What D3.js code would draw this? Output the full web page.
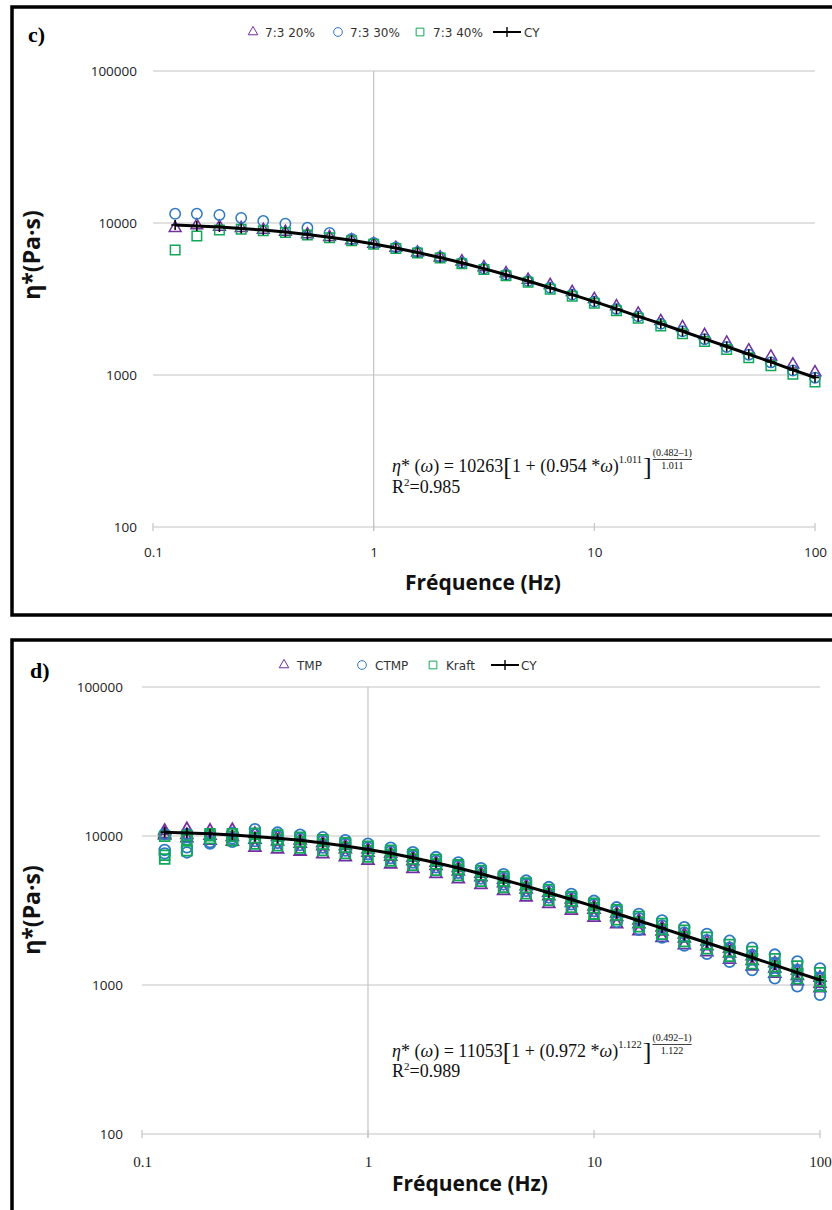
<!DOCTYPE html>
<html><head><meta charset="utf-8">
<script src="https://cdn.jsdelivr.net/npm/d3@7"></script>
<style>body{margin:0;background:#fff}</style>
</head><body>
<svg id="chart" width="832" height="1210"></svg>
<script>
// ---------- data ----------
const freq = [0.126,0.158,0.2,0.251,0.316,0.398,0.501,0.631,0.794,1,1.26,1.58,2,2.51,3.16,3.98,5.01,6.31,7.94,10,12.6,15.8,20,25.1,31.6,39.8,50.1,63.1,79.4,100];
const xTicks = [0.1,1,10,100];
const xTickLabels = ["0.1","1","10","100"];
const yTicks = [100,1000,10000,100000];
const yTickLabels = ["100","1000","10000","100000"];

// panel c
const cLegend = ["7:3 20%","7:3 30%","7:3 40%","CY"];
const c20 = [9270,9650,9450,9250,9000,8730,8410,8070,7690,7280,6850,6390,5930,5580,5110,4660,4230,3900,3510,3160,2830,2530,2260,2060,1830,1630,1450,1320,1170,1040];
const c30 = [11500,11500,11300,10800,10300,9900,9300,8600,7850,7400,6900,6420,5950,5480,5020,4570,4150,3750,3380,3040,2720,2430,2170,1940,1720,1530,1360,1210,1070,960];
const c40 = [6640,8200,9000,9100,8900,8650,8350,8000,7650,7250,6800,6350,5880,5400,4940,4500,4070,3670,3300,2960,2650,2360,2100,1870,1660,1470,1300,1150,1010,900];
const cCY = [9700,9560,9400,9210,8980,8720,8410,8070,7690,7280,6850,6390,5930,5470,5010,4570,4150,3750,3380,3040,2720,2430,2180,1940,1730,1540,1370,1220,1080,963];

// panel d
const dLegend = ["TMP","CTMP","Kraft","CY"];
const dTMP1 = [10820,11120,10860,10970,10330,9860,9350,8990,8580,8130,7650,7140,6620,6100,5580,5080,4610,4160,3750,3370,3020,2710,2430,2180,1960,1750,1560,1400,1250,1120];
const dTMP2 = [10290,10170,10030,9850,9440,9180,8890,8540,8150,7730,7270,6780,6290,5790,5300,4830,4380,3950,3560,3200,2860,2560,2290,2050,1820,1630,1450,1290,1150,1020];
const dTMP3 = [10080,9650,9310,9140,8340,8120,7860,7550,7210,6830,6430,6000,5560,5120,4690,4270,3870,3500,3150,2830,2560,2300,2070,1850,1660,1480,1330,1190,1060,950];
const dCTMP1 = [10290,10280,10240,10460,11120,10540,10190,9800,9360,8870,8340,7780,7220,6640,6080,5540,5020,4540,4080,3670,3320,3000,2710,2440,2200,1980,1780,1600,1440,1290];
const dCTMP2 = [8060,8390,9100,9650,10230,9960,9630,9260,8840,8380,7880,7360,6820,6280,5750,5230,4750,4290,3860,3470,3140,2810,2510,2240,2000,1780,1590,1410,1260,1120];
const dCTMP3 = [7640,7760,8890,9140,9240,8990,8700,8360,7980,7560,7110,6640,6160,5670,5190,4730,4280,3870,3480,3130,2650,2350,2080,1840,1620,1430,1260,1110,980,860];
const dKraft1 = [9970,10070,10340,10360,10430,10150,9820,9440,9010,8540,8030,7500,6950,6400,5860,5340,4840,4370,3930,3530,3200,2880,2590,2330,2090,1870,1680,1500,1340,1210];
const dKraft2 = [7430,9440,10030,9950,9730,9470,9170,8810,8410,7970,7500,7000,6490,5970,5470,4980,4510,4080,3670,3300,2950,2640,2360,2110,1880,1680,1490,1330,1190,1060];
const dKraft3 = [7000,7970,9620,9340,8840,8600,8320,8000,7640,7240,6810,6360,5890,5430,4970,4520,4100,3700,3330,2990,2740,2460,2190,1960,1750,1560,1390,1240,1100,980];
const dCY = [10610,10490,10340,10160,9930,9670,9350,8990,8580,8130,7650,7140,6620,6100,5580,5080,4610,4160,3750,3370,3020,2700,2410,2150,1920,1710,1530,1360,1210,1080];

// ---------- drawing ----------
const PURPLE = "#7030a0", BLUE = "#2e78c4", GREEN = "#12a85a";
const svg = d3.select("#chart");
const sans = "'Open Sans', 'Liberation Sans', Arial, sans-serif";
const serif = "'Liberation Serif', 'Times New Roman', serif";

function marker(g, shape, color, cx, cy, sz, sw) {
  const type = shape === "tri" ? d3.symbolTriangle : shape === "circ" ? d3.symbolCircle : d3.symbolSquare;
  g.append("path").attr("d", d3.symbol().type(type).size(sz)())
    .attr("transform", `translate(${cx},${cy})`)
    .attr("fill", "none").attr("stroke", color).attr("stroke-width", sw);
}
function plus(g, cx, cy, s) {
  g.append("path").attr("d", `M${-s},0H${s}M0,${-s - 1}V${s + 1}`)
    .attr("transform", `translate(${cx},${cy})`).attr("stroke", "#000").attr("stroke-width", 1.6).attr("fill", "none");
}

function formula(g, x0, base, A, a, n, num, r2, r2dy) {
  const fs = 18;
  let x = x0;
  const pieces = [
    {t: "η", it: true}, {t: "* ("}, {t: "ω", it: true}, {t: ") = " + A},
    {t: "[", big: true}, {t: "1 + (" + a + " * "}, {t: "ω", it: true}, {t: ")"},
    {t: n, sup: true}, {t: "]", big: true}
  ];
  pieces.forEach(p => {
    const t = g.append("text").attr("x", x).attr("y", p.sup ? base - 9 : p.big ? base + 3 : base)
      .attr("font-family", serif).attr("font-size", p.sup ? 10.5 : p.big ? 26 : fs)
      .attr("font-style", p.it ? "italic" : "normal").attr("fill", "#111").text(p.t);
    x += t.node().getComputedTextLength() + (p.sup ? 1 : 0);
  });
  const numT = g.append("text").attr("x", x + 1).attr("y", base - 16).attr("font-family", serif).attr("font-size", 10).attr("fill", "#111").text(num);
  const w = numT.node().getComputedTextLength();
  g.append("line").attr("x1", x + 1).attr("x2", x + 1 + w).attr("y1", base - 12.5).attr("y2", base - 12.5).attr("stroke", "#111").attr("stroke-width", 0.8);
  g.append("text").attr("x", x + 1 + w / 2).attr("y", base - 3).attr("text-anchor", "middle").attr("font-family", serif).attr("font-size", 10).attr("fill", "#111").text(n);
  const r = g.append("text").attr("x", x0).attr("y", base + r2dy).attr("font-family", serif).attr("font-size", fs).attr("fill", "#111");
  r.append("tspan").text("R");
  r.append("tspan").attr("font-size", 11).attr("dy", -7).text("2");
  r.append("tspan").attr("dy", 7).text("=" + r2);
}

function panel(cfg) {
  const g = svg.append("g");
  g.append("rect").attr("x", cfg.box[0]).attr("y", cfg.box[1]).attr("width", cfg.box[2]).attr("height", cfg.box[3])
    .attr("fill", "none").attr("stroke", "#000").attr("stroke-width", 3.5);
  const x = d3.scaleLog().domain([0.1, 100]).range(cfg.xr);
  const y = d3.scaleLog().domain([100, 100000]).range(cfg.yr);

  // gridlines
  g.selectAll(".hg").data(yTicks).join("line")
    .attr("x1", x(0.1)).attr("x2", x(100)).attr("y1", d => y(d)).attr("y2", d => y(d))
    .attr("stroke", "#c4c4c4").attr("stroke-width", 1.2);
  g.append("line").attr("x1", x(1)).attr("x2", x(1)).attr("y1", y(100000)).attr("y2", y(100) + 4)
    .attr("stroke", "#c4c4c4").attr("stroke-width", 1.2);
  g.selectAll(".xt").data(xTicks).join("line")
    .attr("x1", d => x(d)).attr("x2", d => x(d)).attr("y1", y(100) - 4).attr("y2", y(100) + 4)
    .attr("stroke", "#c4c4c4").attr("stroke-width", 1.2);

  // axes labels via d3 axes
  const ya = g.append("g").attr("transform", `translate(${x(0.1)},0)`)
    .call(d3.axisLeft(y).tickValues(yTicks).tickFormat((d, i) => yTickLabels[i]).tickSize(0).tickPadding(cfg.yPad));
  ya.select(".domain").remove();
  ya.selectAll("text").attr("font-family", sans).attr("font-size", 13.5).attr("fill", "#222");
  const xa = g.append("g").attr("transform", `translate(0,${y(100)})`)
    .call(d3.axisBottom(x).tickValues(xTicks).tickFormat((d, i) => xTickLabels[i]).tickSize(0).tickPadding(cfg.xPad));
  xa.select(".domain").remove();
  xa.selectAll("text").attr("font-family", cfg.xFont).attr("font-size", cfg.xFs).attr("fill", "#222");

  // series
  cfg.series.forEach(s => {
    s.values.forEach((v, i) => marker(g, s.shape, s.color, x(freq[i]), y(v), s.size, cfg.sw));
  });
  g.append("path").datum(cfg.cy)
    .attr("d", d3.line().x((d, i) => x(freq[i])).y(d => y(d)))
    .attr("fill", "none").attr("stroke", "#000").attr("stroke-width", 3);
  cfg.cy.forEach((v, i) => plus(g, x(freq[i]), y(v), 4));

  // titles
  g.append("text").attr("transform", `translate(${cfg.yTitle[0]},${cfg.yTitle[1]}) rotate(-90)`)
    .attr("text-anchor", "middle").attr("font-family", sans).attr("font-weight", "bold").attr("font-size", 23)
    .attr("fill", "#111").text("η*(Pa·s)");
  g.append("text").attr("x", cfg.xTitle[0]).attr("y", cfg.xTitle[1]).attr("text-anchor", "middle")
    .attr("font-family", sans).attr("font-weight", "bold").attr("font-size", 21).attr("fill", "#111").text("Fréquence (Hz)");
  g.append("text").attr("x", cfg.tag[0]).attr("y", cfg.tag[1]).attr("font-family", serif).attr("font-weight", "bold")
    .attr("font-size", 22).attr("fill", "#000").text(cfg.tagText);

  // legend
  const lg = g.append("g");
  cfg.legend.forEach((it, i) => {
    if (it.shape === "line") {
      lg.append("line").attr("x1", it.mx - 14).attr("x2", it.mx + 14).attr("y1", cfg.legY).attr("y2", cfg.legY).attr("stroke", "#000").attr("stroke-width", 2);
      lg.append("line").attr("x1", it.mx).attr("x2", it.mx).attr("y1", cfg.legY - 5).attr("y2", cfg.legY + 5).attr("stroke", "#000").attr("stroke-width", 1.4);
    } else {
      marker(lg, it.shape, it.color, it.mx, cfg.legY, it.shape === "tri" ? 40 : 60, 1);
    }
    lg.append("text").attr("x", it.tx).attr("y", cfg.legY + 4.5).attr("font-family", "'DejaVu Sans', sans-serif")
      .attr("font-size", 12).attr("fill", "#333").text(cfg.legText[i]);
  });

  formula(g, cfg.fx, cfg.fy, cfg.A, cfg.a, cfg.n, cfg.num, cfg.r2, cfg.r2dy);
}

panel({
  box: [12, 7, 900, 608], xr: [153, 815], yr: [527, 71], yPad: 16, xPad: 20, xFont: sans, xFs: 13.5, sw: 1.5,
  series: [
    {values: c20, shape: "tri", color: PURPLE, size: 60},
    {values: c30, shape: "circ", color: BLUE, size: 85},
    {values: c40, shape: "sq", color: GREEN, size: 90}
  ],
  cy: cCY, yTitle: [40, 255], xTitle: [483, 590], tag: [28, 42], tagText: "c)",
  legY: 32, legText: cLegend,
  legend: [{shape: "tri", color: PURPLE, mx: 253, tx: 265}, {shape: "circ", color: BLUE, mx: 338, tx: 350},
           {shape: "sq", color: GREEN, mx: 420, tx: 433}, {shape: "line", mx: 507, tx: 524}],
  fx: 392, fy: 472, A: "10263", a: "0.954", n: "1.011", num: "(0.482–1)", r2: "0.985", r2dy: 21
});

panel({
  box: [12, 640, 900, 575], xr: [142, 820], yr: [1134, 687], yPad: 19, xPad: 22, xFont: serif, xFs: 15, sw: 1.8,
  series: [
    {values: dTMP1, shape: "tri", color: PURPLE, size: 60},
    {values: dTMP2, shape: "tri", color: PURPLE, size: 60},
    {values: dTMP3, shape: "tri", color: PURPLE, size: 60},
    {values: dCTMP1, shape: "circ", color: BLUE, size: 90},
    {values: dCTMP2, shape: "circ", color: BLUE, size: 90},
    {values: dCTMP3, shape: "circ", color: BLUE, size: 90},
    {values: dKraft1, shape: "sq", color: GREEN, size: 95},
    {values: dKraft2, shape: "sq", color: GREEN, size: 95},
    {values: dKraft3, shape: "sq", color: GREEN, size: 95}
  ],
  cy: dCY, yTitle: [40, 910], xTitle: [470, 1191], tag: [30, 678], tagText: "d)",
  legY: 665, legText: dLegend,
  legend: [{shape: "tri", color: PURPLE, mx: 284, tx: 297}, {shape: "circ", color: BLUE, mx: 362, tx: 375},
           {shape: "sq", color: GREEN, mx: 433, tx: 446}, {shape: "line", mx: 505, tx: 521}],
  fx: 392, fy: 1057, A: "11053", a: "0.972", n: "1.122", num: "(0.492–1)", r2: "0.989", r2dy: 20
});
</script>
</body></html>
